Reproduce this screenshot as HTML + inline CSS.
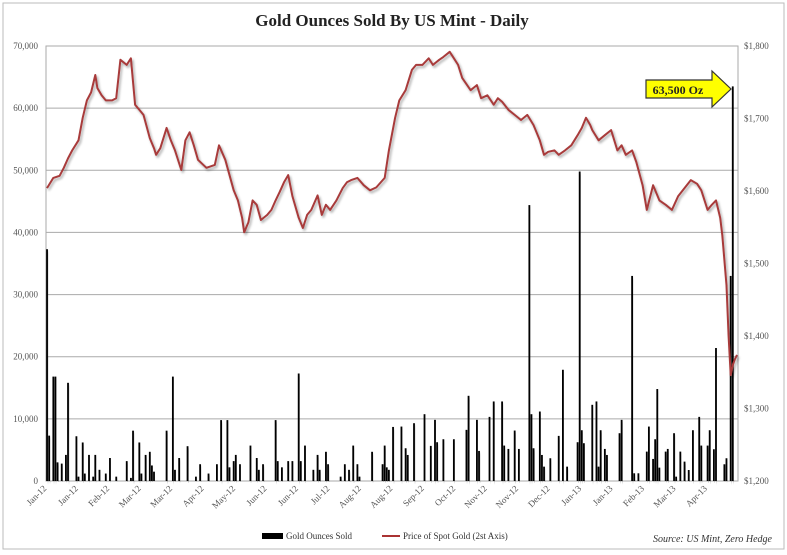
<!DOCTYPE html>
<html><head><meta charset="utf-8"><style>
html,body{margin:0;padding:0;background:#fff;}
svg{display:block;font-family:"Liberation Serif",serif;}
</style></head><body>
<svg id="chart" width="787" height="555" viewBox="0 0 787 555">
<defs><filter id="sh" x="-5%" y="-5%" width="110%" height="110%"><feGaussianBlur in="SourceAlpha" stdDeviation="1.2"/><feOffset dx="1.5" dy="2" result="b"/><feComponentTransfer><feFuncA type="linear" slope="0.35"/></feComponentTransfer><feMerge><feMergeNode/><feMergeNode in="SourceGraphic"/></feMerge></filter></defs>
<rect x="3" y="3" width="781" height="546" fill="#fff" stroke="#bbb"/>
<text x="392" y="26" text-anchor="middle" font-size="17" font-weight="bold" fill="#222">Gold Ounces Sold By US Mint - Daily</text>
<g id="grid"></g><g id="bars"></g><g id="line"></g><g id="axes"></g>
<g>
<polygon points="646,80 712,80 712,71 731,89 712,107 712,98 646,98" fill="#ffff00" stroke="#333" stroke-width="1.2"/>
<text x="678" y="94" text-anchor="middle" font-size="12" font-weight="bold" fill="#222">63,500 Oz</text>
</g>
<g>
<rect x="262" y="533" width="21" height="6" fill="#000"/>
<text x="286" y="539" font-size="9" fill="#333">Gold Ounces Sold</text>
<line x1="382" y1="536" x2="400" y2="536" stroke="#a33" stroke-width="2"/>
<text x="403" y="539" font-size="9" fill="#333">Price of Spot Gold (2st Axis)</text>
</g>
<text x="772" y="542" text-anchor="end" font-size="10" font-style="italic" fill="#333">Source: US Mint, Zero Hedge</text>
</svg>
<script>
const leftTicks=[0,10000,20000,30000,40000,50000,60000,70000];
const rightTicks=[1200,1300,1400,1500,1600,1700,1800];
const monthLabels=["Jan-12","Jan-12","Feb-12","Mar-12","Mar-12","Apr-12","May-12","Jun-12","Jun-12","Jul-12","Aug-12","Aug-12","Sep-12","Oct-12","Nov-12","Nov-12","Dec-12","Jan-13","Jan-13","Feb-13","Mar-13","Apr-13"];
const barDays=[0,1,3,4,5,7,9,10,14,15,17,18,20,22,23,25,28,30,33,38,40,41,44,45,47,49,50,51,57,60,61,63,67,71,73,77,81,83,86,87,89,90,92,97,100,101,103,109,110,112,115,117,120,121,123,127,129,130,133,134,140,142,144,146,148,149,155,160,161,162,163,165,169,171,172,175,180,183,185,186,189,194,200,201,205,206,211,213,217,218,220,223,225,230,231,232,235,236,237,240,244,246,248,253,254,255,256,260,262,263,264,266,267,273,274,279,280,282,286,287,289,290,291,292,295,296,299,300,302,304,306,308,311,312,315,316,318,319,323,324,326,327];
const barValues=[37300,7300,16800,16800,3000,2800,4200,15800,7200,700,6200,1200,4200,700,4200,1800,1200,3700,700,3200,500,8100,6200,1200,4200,4700,2500,1500,8100,16800,1800,3700,5600,700,2700,1200,2700,9800,9800,2200,3200,4200,2700,5700,3700,1800,2700,9800,3200,2200,3200,3200,17300,3200,5700,1800,4200,1800,4700,2700,700,2700,1800,5700,2700,700,4700,2700,5700,2200,1800,8700,8760,5270,4190,9300,10750,5650,9840,6240,6720,6720,8230,13710,9840,4840,10320,12800,12800,5700,5160,8120,5160,44400,10750,5270,11180,4190,2310,3660,7260,17900,2310,6240,49800,8170,6080,12260,12800,2310,8170,5160,4190,7690,9840,33000,1240,1240,4730,8760,3550,6720,14800,2150,4730,5160,7690,700,4730,3120,1770,8170,10320,5700,5700,8170,5110,21400,2690,3660,33000,63500];
const priceDays=[0,3,6,8,10,12,15,17,19,21,23,24,26,28,31,33,35,38,40,42,44,46,49,51,52,54,57,59,61,64,66,68,70,72,76,80,82,85,89,91,93,94,96,98,100,102,105,107,109,111,113,115,117,120,122,124,126,129,131,133,135,138,141,143,145,148,151,154,157,161,163,166,168,171,174,176,179,182,184,187,189,192,194,196,198,202,205,207,210,213,215,217,220,223,226,229,232,235,237,239,242,244,247,250,253,255,257,259,260,263,266,269,272,274,276,279,281,284,286,289,292,295,298,301,304,307,310,312,315,317,319,321,322,324,325,326,327,328,329];
const goldPrice=[1604,1618,1621,1632,1645,1656,1670,1701,1725,1736,1760,1742,1732,1725,1725,1728,1781,1774,1783,1719,1712,1705,1673,1659,1650,1659,1687,1670,1656,1629,1670,1681,1663,1643,1632,1636,1663,1643,1601,1587,1563,1543,1557,1587,1581,1560,1567,1574,1587,1599,1612,1622,1593,1563,1549,1567,1574,1594,1567,1581,1574,1587,1604,1612,1615,1618,1608,1601,1605,1618,1656,1701,1725,1739,1767,1774,1774,1783,1774,1781,1785,1792,1783,1774,1756,1739,1746,1728,1732,1719,1728,1723,1712,1705,1698,1705,1691,1670,1650,1654,1656,1650,1656,1663,1677,1687,1701,1691,1684,1670,1677,1684,1656,1663,1650,1656,1640,1608,1574,1608,1587,1581,1574,1593,1604,1615,1610,1601,1574,1581,1587,1563,1539,1470,1400,1346,1360,1368,1374];
const NS="http://www.w3.org/2000/svg";
const L=46,R=738,T=46,B=481,N=330;
const yL=v=>B-(v/70000)*(B-T);
const yR=p=>B-((p-1200)/600)*(B-T);
const xDay=d=>L+(d+0.5)*(R-L)/N;
function mk(tag,attrs,parent){const e=document.createElementNS(NS,tag);for(const k in attrs)e.setAttribute(k,attrs[k]);parent.appendChild(e);return e;}
const grid=document.getElementById('grid'),axes=document.getElementById('axes'),barsG=document.getElementById('bars'),lineG=document.getElementById('line');
leftTicks.forEach(v=>{
 const g=mk('line',{x1:L,x2:R,y1:yL(v),y2:yL(v),stroke:'#aaa','stroke-width':1},grid);
 
 
 const t=mk('text',{x:38,y:yL(v)+3,'text-anchor':'end','font-size':9,fill:'#555'},axes);
 t.textContent=v===0?'0':v.toLocaleString('en-US');
 
 
});
const fr=mk('rect',{x:L,y:T,width:R-L,height:B-T,fill:'none',stroke:'#aaa'},grid);


rightTicks.forEach(p=>{
 const t=mk('text',{x:744,y:yR(p)+3,'font-size':9,fill:'#555'},axes);
 t.textContent='$'+p.toLocaleString('en-US');
 
 
});
monthLabels.forEach((m,i)=>{
 const x=xDay(i*15),y=B+8;
 const t=mk('text',{x:x,y:y,'text-anchor':'end','font-size':9,fill:'#555',transform:`rotate(-45 ${x} ${y})`},axes);
 t.textContent=m;
 
 
});
barDays.forEach((d,i)=>{
 const v=barValues[i];
 const b=mk('rect',{x:xDay(d)-0.9,y:yL(v),width:1.8,height:B-yL(v),fill:'#000',filter:'url(#sh)'},barsG);
 
 
});
const n=Math.min(goldPrice.length,priceDays.length);
const pts=[];
for(let i=0;i<n;i++)pts.push(xDay(priceDays[i]).toFixed(1)+','+yR(goldPrice[i]).toFixed(1));
const pl=mk('polyline',{points:pts.join(' '),fill:'none',stroke:'#a83a3a','stroke-width':2,'stroke-linejoin':'round',filter:'url(#sh)'},lineG);


</script>
</body></html>
